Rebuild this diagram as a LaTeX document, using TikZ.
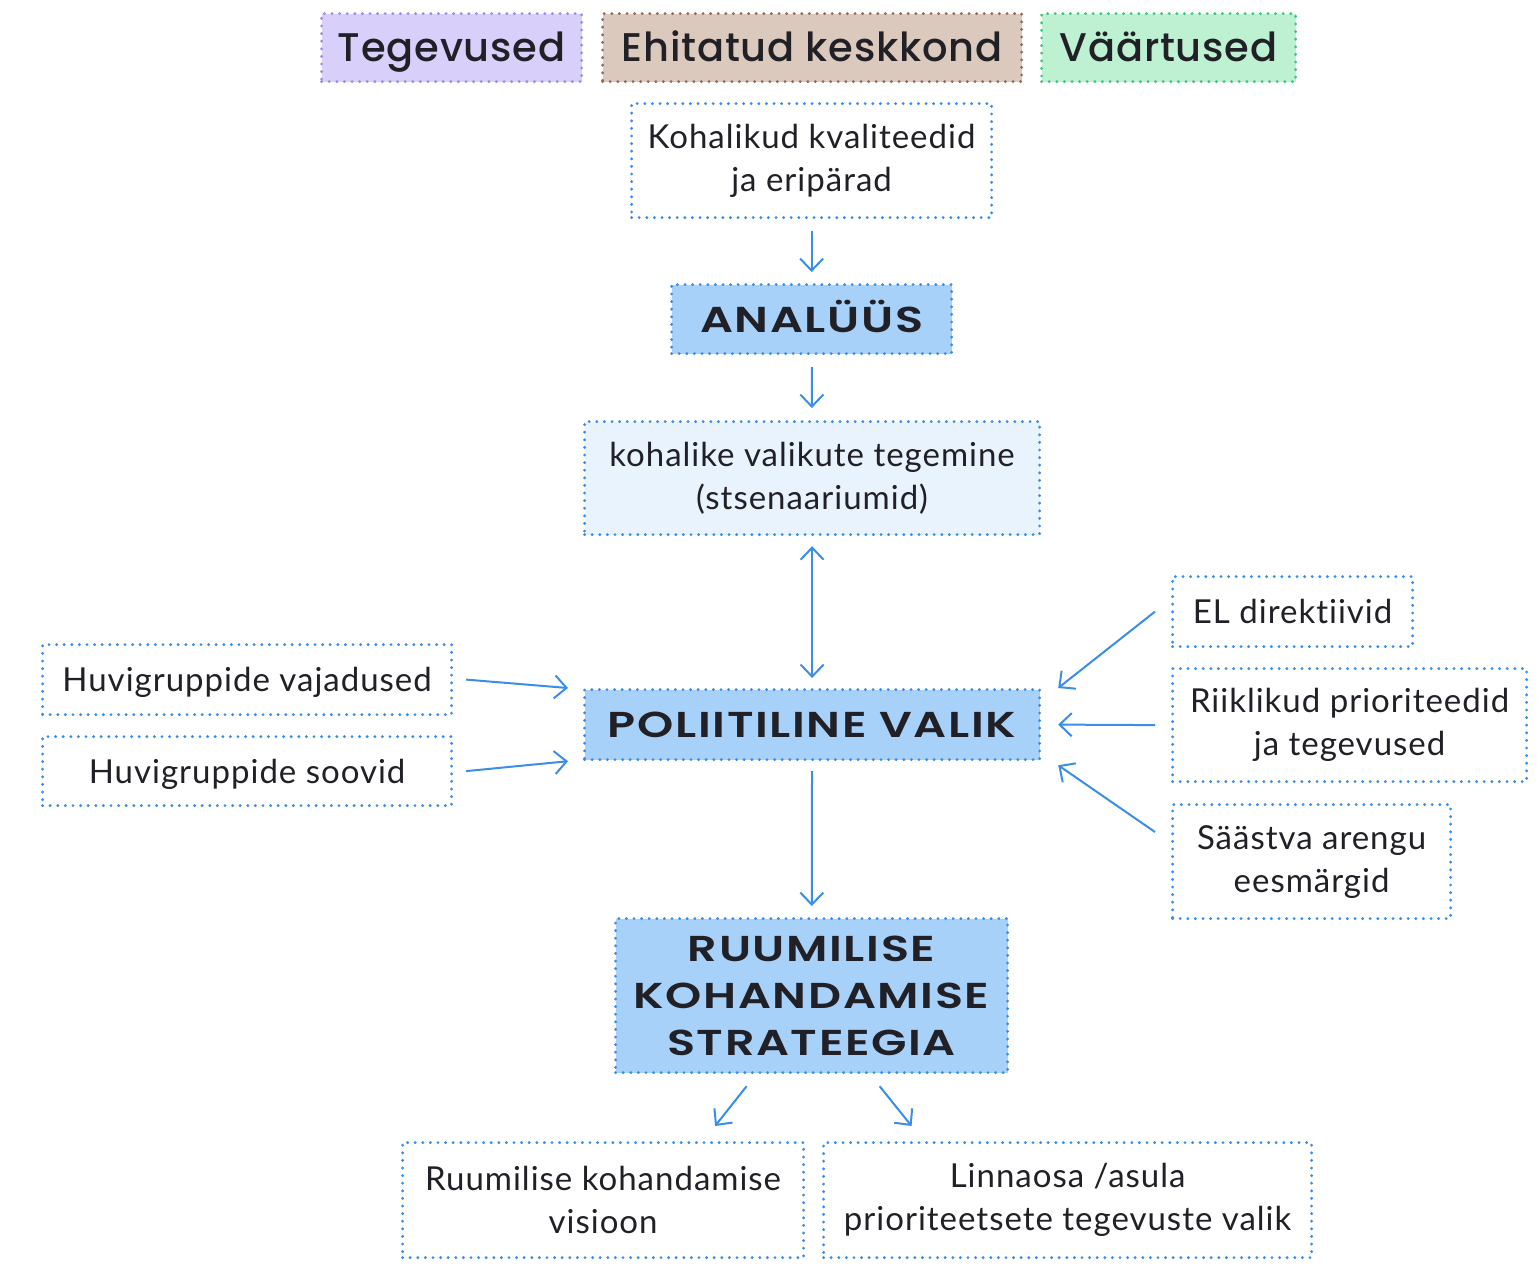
\documentclass[tikz,border=0pt]{standalone}
\usepackage{fontspec}
\setmainfont{Lato}[LetterSpace=3, Ligatures=NoCommon]
\newfontfamily\headfont{Poppins SemiBold}[FakeStretch=1.28, LetterSpace=4.5]
\newfontfamily\keyfont{Poppins Medium}[LetterSpace=2]
\usetikzlibrary{arrows.meta}
\definecolor{lineblue}{HTML}{3A8EE6}
\definecolor{strongfill}{HTML}{A8D1FA}
\definecolor{lightfill}{HTML}{E8F3FD}
\definecolor{txt}{HTML}{202026}
\definecolor{lavfill}{HTML}{D8D0FB}
\definecolor{lavline}{HTML}{9B8BEA}
\definecolor{brfill}{HTML}{DCC9BD}
\definecolor{brline}{HTML}{8E6D58}
\definecolor{grfill}{HTML}{BDF1D2}
\definecolor{grline}{HTML}{3CC67E}
\begin{document}
\begin{tikzpicture}[x=1pt,y=-1pt,
  dots/.style={line width=3.2pt, dash pattern=on 0pt off 7.6pt, line cap=round},
  box/.style={draw=lineblue, dots, anchor=north west, inner sep=0pt, align=center, text=txt, font=\fontsize{33}{43}\selectfont},
  oneline/.style={text height=24pt, text depth=0pt},
  headline/.style={text height=26pt, text depth=0pt},
  sz/.style 2 args={minimum width=#1pt, minimum height=#2pt},
  keybox/.style={dots, anchor=north west, inner sep=0pt, align=center, text=txt, text height=27pt, text depth=0pt, font=\keyfont\fontsize{40}{46}\selectfont},
  headbox/.style={box, fill=strongfill, font=\headfont\fontsize{36}{47}\selectfont},
  arr/.style={draw=lineblue, line width=2pt, -{Straight Barb[length=12pt, width=23pt, line width=2pt]}},
  darr/.style={draw=lineblue, line width=2pt, {Straight Barb[length=12pt, width=23pt, line width=2pt]}-{Straight Barb[length=12pt, width=23pt, line width=2pt]}}
]
\useasboundingbox[fill=white] (0,0) rectangle (1537,1264);
% legend
\node[keybox, draw=lavline, fill=lavfill, sz={260}{68}] (teg) at (320,12) {Tegevused};
\node[keybox, draw=brline, fill=brfill, sz={419}{68}] (ehi) at (601,12) {Ehitatud keskkond};
\node[keybox, draw=grline, fill=grfill, sz={254}{68}] (vaa) at (1040,12) {Väärtused};
% main column
\node[box, sz={360}{114}] (kq) at (630,102) {Kohalikud kvaliteedid\\ja eripärad};
\node[headbox, headline, sz={280}{69}] (an) at (670,283) {ANALÜÜS};
\node[box, fill=lightfill, sz={455}{113}] (kv) at (583,420) {kohalike valikute tegemine\\(stsenaariumid)};
\node[headbox, headline, sz={455}{70}] (pv) at (583,688) {POLIITILINE VALIK};
\node[headbox, sz={392}{154}] (rs) at (614,917) {RUUMILISE\\KOHANDAMISE\\STRATEEGIA};
\node[box, sz={401}{115}] (rv) at (401,1141) {Ruumilise kohandamise\\visioon};
\node[box, sz={488}{115}] (lo) at (822,1141) {Linnaosa /asula\\prioriteetsete tegevuste valik};
% left
\node[box, oneline, sz={409}{70}] (hv) at (41,643) {Huvigruppide vajadused};
\node[box, oneline, sz={409}{69}] (hs) at (41,735) {Huvigruppide soovid};
% right
\node[box, oneline, sz={240}{70}] (el) at (1171,575) {EL direktiivid};
\node[box, sz={354}{113}] (ri) at (1171,667) {Riiklikud prioriteedid\\ja tegevused};
\node[box, sz={278}{114}] (sa) at (1171,803) {Säästva arengu\\eesmärgid};
% connectors
\draw[arr, shorten <=12pt, shorten >=11pt] (kq) -- (an);
\draw[arr, shorten <=12pt, shorten >=12pt] (an) -- (kv);
\draw[darr, shorten <=10pt, shorten >=10pt] (kv) -- (pv);
\draw[arr, shorten <=10pt, shorten >=11pt] (pv) -- (rs);
\draw[arr] ([xshift=13pt]hv.east) -- ([xshift=-15pt]pv.north west);
\draw[arr] ([xshift=13pt]hs.east) -- ([xshift=-15pt]pv.south west);
\draw[arr] ([xshift=-16pt]el.west) -- ([xshift=17pt]pv.north east);
\draw[arr] ([xshift=-16pt]ri.west) -- ([xshift=17pt]pv.east);
\draw[arr] ([xshift=-16pt,yshift=-29pt]sa.north west) -- ([xshift=17pt,yshift=-4pt]pv.south east);
\draw[arr] ([xshift=-65pt,yshift=-12pt]rs.south) -- ([xshift=112pt,yshift=15pt]rv.north);
\draw[arr] ([xshift=68pt,yshift=-12pt]rs.south) -- ([xshift=-156pt,yshift=15pt]lo.north);
\end{tikzpicture}
\end{document}
